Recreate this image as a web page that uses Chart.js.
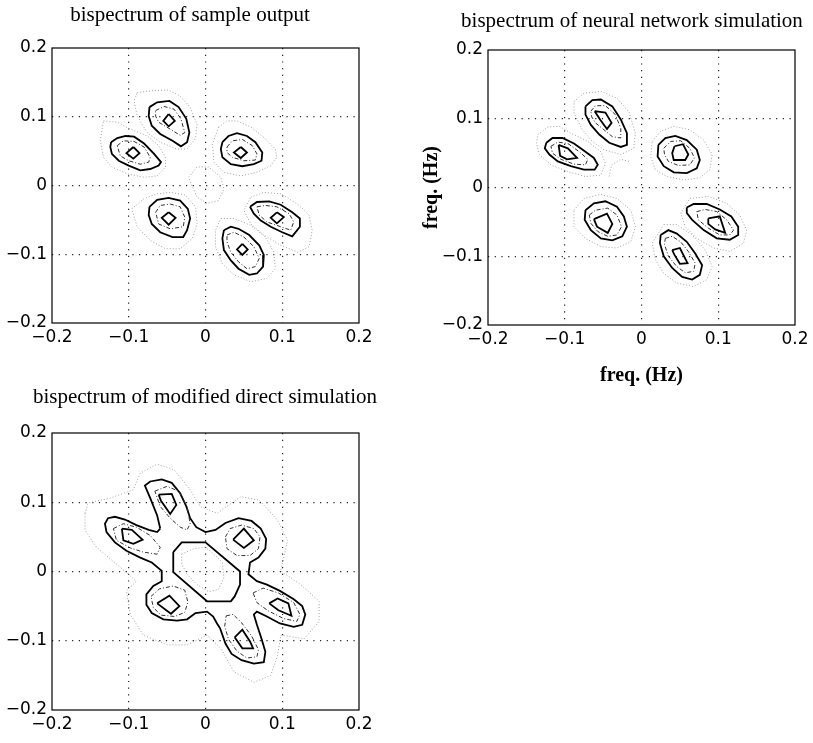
<!DOCTYPE html>
<html>
<head>
<meta charset="utf-8">
<title>bispectrum contours</title>
<script src="https://cdn.jsdelivr.net/npm/chart.js@4.4.0/dist/chart.umd.min.js"></script>
<style>
    html, body { margin: 0; padding: 0; background: #fff; }
    #fig { position: relative; width: 813px; height: 743px; overflow: hidden; }
    canvas { position: absolute; }
    .title {
        position: absolute;
        font: 21px "Liberation Serif", "Times New Roman", serif;
        line-height: 24px;
        color: #000;
        white-space: nowrap;
        transform: translateX(-50%);
    }
</style>
</head>
<body>
<div id="fig">
    <canvas id="sampleChart" width="380" height="360" style="left:0;top:0"></canvas>
    <canvas id="networkChart" width="413" height="400" style="left:400px;top:0"></canvas>
    <canvas id="directChart" width="380" height="363" style="left:0;top:380px"></canvas>
    <div class="title" style="left:190px;top:2px">bispectrum of sample output</div>
    <div class="title" style="left:632px;top:8px">bispectrum of neural network simulation</div>
    <div class="title" style="left:205px;top:384px">bispectrum of modified direct simulation</div>
</div>
<script>
"use strict";

// Axis ticks (Hz)
const TICK_VALUES = [-0.2, -0.1, 0, 0.1, 0.2];
const TICK_LABELS = ["\u22120.2", "\u22120.1", "0", "0.1", "0.2"];

// Contour rings, [f1, f2] pairs. Lobes go: upper, left, right-upper, lower-left, right-lower, lower.

// sample output
const sampleFaint = [
    [[-0.089,0.135],[-0.070,0.138],[-0.048,0.139],[-0.033,0.130],[-0.020,0.114],[-0.011,0.089],[-0.013,0.068],[-0.024,0.053],[-0.037,0.053],[-0.059,0.063],[-0.076,0.077],[-0.089,0.101],[-0.093,0.123]],
    [[-0.133,0.094],[-0.115,0.092],[-0.098,0.082],[-0.076,0.072],[-0.061,0.058],[-0.052,0.041],[-0.052,0.027],[-0.063,0.014],[-0.080,0.012],[-0.102,0.017],[-0.122,0.027],[-0.133,0.041],[-0.137,0.065]],
    [[0.017,0.085],[0.028,0.094],[0.041,0.094],[0.059,0.085],[0.076,0.070],[0.091,0.053],[0.093,0.041],[0.085,0.029],[0.067,0.019],[0.046,0.014],[0.024,0.019],[0.011,0.034],[0.009,0.060]],
    [[-0.096,-0.034],[-0.080,-0.019],[-0.063,-0.012],[-0.046,-0.010],[-0.026,-0.014],[-0.013,-0.031],[-0.011,-0.056],[-0.017,-0.077],[-0.033,-0.092],[-0.052,-0.092],[-0.072,-0.080],[-0.089,-0.060]],
    [[0.059,-0.017],[0.076,-0.010],[0.098,-0.012],[0.120,-0.027],[0.135,-0.043],[0.139,-0.065],[0.135,-0.089],[0.120,-0.097],[0.098,-0.087],[0.076,-0.072],[0.059,-0.056],[0.050,-0.036]],
    [[0.020,-0.048],[0.037,-0.048],[0.059,-0.058],[0.078,-0.075],[0.089,-0.097],[0.091,-0.121],[0.080,-0.135],[0.059,-0.140],[0.037,-0.130],[0.022,-0.114],[0.013,-0.089],[0.013,-0.065]],
    [[-0.022,0.012],[-0.011,0.027],[0.004,0.027],[0.020,0.012],[0.024,-0.005],[0.017,-0.022],[0.002,-0.026],[-0.011,-0.017],[-0.017,-0.002]]
];
const sampleDash = [
    [[-0.065,0.109],[-0.054,0.115],[-0.041,0.111],[-0.032,0.097],[-0.027,0.077],[-0.033,0.073],[-0.046,0.082],[-0.061,0.092],[-0.065,0.101]],
    [[-0.115,0.058],[-0.107,0.065],[-0.093,0.064],[-0.080,0.056],[-0.072,0.041],[-0.074,0.034],[-0.085,0.031],[-0.100,0.036],[-0.111,0.043]],
    [[0.028,0.056],[0.035,0.065],[0.048,0.067],[0.061,0.058],[0.067,0.046],[0.065,0.037],[0.050,0.036],[0.035,0.041],[0.028,0.048]],
    [[-0.065,-0.039],[-0.059,-0.029],[-0.046,-0.027],[-0.033,-0.031],[-0.027,-0.046],[-0.029,-0.060],[-0.046,-0.063],[-0.061,-0.056]],
    [[0.067,-0.031],[0.078,-0.029],[0.093,-0.031],[0.109,-0.041],[0.115,-0.053],[0.111,-0.065],[0.098,-0.060],[0.080,-0.053],[0.070,-0.043]],
    [[0.028,-0.072],[0.037,-0.068],[0.050,-0.075],[0.063,-0.089],[0.070,-0.106],[0.065,-0.118],[0.054,-0.121],[0.043,-0.111],[0.033,-0.097],[0.028,-0.082]]
];
const sampleSolid = [
    [[-0.073,0.114],[-0.063,0.121],[-0.047,0.123],[-0.035,0.114],[-0.025,0.097],[-0.021,0.077],[-0.024,0.063],[-0.032,0.057],[-0.043,0.065],[-0.059,0.075],[-0.070,0.087],[-0.074,0.101]],
    [[-0.123,0.063],[-0.115,0.069],[-0.104,0.072],[-0.093,0.071],[-0.080,0.061],[-0.067,0.046],[-0.058,0.034],[-0.061,0.029],[-0.072,0.024],[-0.085,0.022],[-0.100,0.029],[-0.113,0.036],[-0.122,0.046],[-0.124,0.056]],
    [[0.022,0.063],[0.030,0.072],[0.041,0.076],[0.054,0.072],[0.065,0.063],[0.074,0.048],[0.073,0.036],[0.063,0.031],[0.048,0.028],[0.033,0.031],[0.022,0.041],[0.020,0.053]],
    [[-0.073,-0.031],[-0.063,-0.021],[-0.048,-0.018],[-0.033,-0.022],[-0.023,-0.034],[-0.020,-0.048],[-0.024,-0.065],[-0.029,-0.075],[-0.043,-0.075],[-0.059,-0.068],[-0.070,-0.056],[-0.074,-0.043]],
    [[0.058,-0.031],[0.067,-0.024],[0.083,-0.023],[0.098,-0.028],[0.113,-0.039],[0.123,-0.048],[0.123,-0.060],[0.113,-0.074],[0.100,-0.068],[0.085,-0.060],[0.072,-0.051],[0.063,-0.041]],
    [[0.024,-0.065],[0.033,-0.060],[0.043,-0.063],[0.057,-0.072],[0.070,-0.087],[0.076,-0.101],[0.075,-0.118],[0.067,-0.128],[0.057,-0.130],[0.043,-0.121],[0.033,-0.109],[0.024,-0.094],[0.022,-0.077]]
];
const sampleCore = [
    [[-0.048,0.104],[-0.040,0.094],[-0.048,0.086],[-0.055,0.094]],
    [[-0.094,0.056],[-0.086,0.047],[-0.094,0.039],[-0.103,0.047]],
    [[0.046,0.056],[0.054,0.048],[0.046,0.040],[0.037,0.048]],
    [[-0.048,-0.039],[-0.039,-0.047],[-0.048,-0.057],[-0.057,-0.047]],
    [[0.093,-0.039],[0.102,-0.046],[0.093,-0.055],[0.085,-0.047]],
    [[0.048,-0.085],[0.055,-0.093],[0.048,-0.101],[0.041,-0.093]]
];

// neural network simulation
const networkFaint = [
    [[-0.088,0.125],[-0.075,0.137],[-0.053,0.140],[-0.032,0.130],[-0.016,0.109],[-0.008,0.079],[-0.010,0.057],[-0.027,0.048],[-0.049,0.055],[-0.064,0.067],[-0.077,0.084],[-0.088,0.108]],
    [[-0.135,0.077],[-0.122,0.088],[-0.107,0.089],[-0.092,0.079],[-0.070,0.067],[-0.053,0.052],[-0.047,0.035],[-0.053,0.018],[-0.073,0.016],[-0.096,0.023],[-0.118,0.033],[-0.133,0.048],[-0.137,0.065]],
    [[0.014,0.067],[0.025,0.082],[0.042,0.089],[0.063,0.084],[0.081,0.069],[0.092,0.048],[0.089,0.026],[0.076,0.014],[0.055,0.011],[0.033,0.016],[0.018,0.026],[0.012,0.045]],
    [[-0.088,-0.033],[-0.075,-0.016],[-0.053,-0.010],[-0.032,-0.016],[-0.014,-0.033],[-0.008,-0.057],[-0.014,-0.079],[-0.032,-0.088],[-0.053,-0.086],[-0.073,-0.074],[-0.088,-0.057]],
    [[0.063,-0.016],[0.087,-0.013],[0.111,-0.023],[0.128,-0.040],[0.137,-0.062],[0.133,-0.081],[0.115,-0.093],[0.094,-0.088],[0.072,-0.074],[0.057,-0.057],[0.051,-0.037]],
    [[0.029,-0.054],[0.046,-0.054],[0.066,-0.069],[0.083,-0.091],[0.092,-0.115],[0.085,-0.134],[0.068,-0.144],[0.046,-0.139],[0.029,-0.125],[0.018,-0.105],[0.014,-0.081]]
];
const networkArcs = [
    [[-0.042,0.016],[-0.039,0.033],[-0.027,0.041],[-0.016,0.038]]
];
const networkDash = [
    [[-0.066,0.111],[-0.060,0.119],[-0.047,0.119],[-0.034,0.106],[-0.027,0.086],[-0.027,0.072],[-0.038,0.074],[-0.049,0.084],[-0.060,0.094],[-0.065,0.103]],
    [[-0.118,0.060],[-0.109,0.066],[-0.096,0.064],[-0.081,0.052],[-0.070,0.041],[-0.073,0.033],[-0.088,0.034],[-0.105,0.041],[-0.116,0.050]],
    [[0.029,0.057],[0.038,0.067],[0.051,0.068],[0.063,0.057],[0.069,0.043],[0.063,0.033],[0.048,0.032],[0.035,0.038],[0.030,0.048]],
    [[-0.068,-0.040],[-0.060,-0.033],[-0.044,-0.030],[-0.032,-0.040],[-0.026,-0.057],[-0.032,-0.069],[-0.044,-0.071],[-0.057,-0.064],[-0.066,-0.052]],
    [[0.072,-0.035],[0.083,-0.032],[0.098,-0.035],[0.111,-0.047],[0.120,-0.062],[0.115,-0.069],[0.102,-0.069],[0.087,-0.059],[0.074,-0.047]],
    [[0.031,-0.074],[0.040,-0.071],[0.051,-0.079],[0.061,-0.093],[0.070,-0.110],[0.068,-0.122],[0.057,-0.124],[0.046,-0.115],[0.035,-0.100],[0.030,-0.083]]
];
const networkSolid = [
    [[-0.073,0.118],[-0.064,0.127],[-0.053,0.128],[-0.038,0.118],[-0.027,0.099],[-0.019,0.079],[-0.019,0.062],[-0.027,0.059],[-0.042,0.065],[-0.055,0.077],[-0.066,0.091],[-0.073,0.106]],
    [[-0.124,0.065],[-0.116,0.072],[-0.103,0.072],[-0.088,0.064],[-0.073,0.052],[-0.062,0.043],[-0.057,0.033],[-0.061,0.026],[-0.075,0.026],[-0.092,0.031],[-0.109,0.038],[-0.120,0.048],[-0.126,0.057]],
    [[0.022,0.062],[0.031,0.072],[0.044,0.075],[0.059,0.069],[0.072,0.055],[0.076,0.040],[0.072,0.028],[0.059,0.021],[0.042,0.022],[0.029,0.031],[0.021,0.045]],
    [[-0.073,-0.033],[-0.062,-0.023],[-0.047,-0.020],[-0.032,-0.028],[-0.023,-0.042],[-0.019,-0.057],[-0.025,-0.071],[-0.038,-0.077],[-0.053,-0.074],[-0.066,-0.062],[-0.074,-0.047]],
    [[0.059,-0.029],[0.068,-0.024],[0.085,-0.024],[0.102,-0.032],[0.117,-0.042],[0.126,-0.057],[0.126,-0.069],[0.115,-0.076],[0.098,-0.074],[0.081,-0.062],[0.066,-0.047],[0.059,-0.037]],
    [[0.025,-0.069],[0.035,-0.062],[0.046,-0.067],[0.059,-0.079],[0.070,-0.096],[0.079,-0.113],[0.076,-0.127],[0.066,-0.134],[0.053,-0.130],[0.040,-0.117],[0.029,-0.100],[0.024,-0.081]]
];
const networkCore = [
    [[-0.061,0.111],[-0.047,0.109],[-0.039,0.094],[-0.045,0.085],[-0.054,0.099]],
    [[-0.108,0.062],[-0.096,0.057],[-0.084,0.043],[-0.097,0.041],[-0.106,0.046]],
    [[0.043,0.060],[0.054,0.063],[0.061,0.048],[0.057,0.040],[0.042,0.040],[0.040,0.050]],
    [[-0.062,-0.046],[-0.045,-0.038],[-0.038,-0.053],[-0.044,-0.066],[-0.058,-0.057]],
    [[0.087,-0.045],[0.102,-0.042],[0.109,-0.066],[0.096,-0.061],[0.087,-0.053]],
    [[0.040,-0.091],[0.050,-0.088],[0.060,-0.110],[0.050,-0.111],[0.043,-0.098]]
];

// modified direct simulation
const directFaint = [
    [[-0.157,0.084],[-0.153,0.099],[-0.124,0.106],[-0.094,0.118],[-0.085,0.142],[-0.063,0.155],[-0.041,0.147],[-0.020,0.118],[-0.007,0.094],[0.015,0.084],[0.046,0.108],[0.070,0.103],[0.094,0.074],[0.107,0.045],[0.098,0.001],[0.124,-0.019],[0.148,-0.043],[0.148,-0.072],[0.129,-0.097],[0.098,-0.092],[0.094,-0.121],[0.085,-0.150],[0.063,-0.160],[0.037,-0.145],[0.020,-0.111],[0.002,-0.092],[-0.024,-0.106],[-0.050,-0.106],[-0.081,-0.092],[-0.098,-0.062],[-0.103,-0.028],[-0.090,-0.014],[-0.111,0.006],[-0.142,0.035],[-0.157,0.060]],
    [[-0.031,0.025],[-0.015,0.033],[0.000,0.035],[0.011,0.025],[0.022,0.013],[0.024,-0.009],[0.017,-0.026],[0.004,-0.029],[-0.011,-0.019],[-0.024,-0.004],[-0.031,0.011]]
];
const directDash = [
    [[-0.066,0.116],[-0.050,0.123],[-0.035,0.116],[-0.024,0.094],[-0.020,0.069],[-0.024,0.060],[-0.033,0.064],[-0.046,0.077],[-0.059,0.094]],
    [[-0.120,0.062],[-0.107,0.069],[-0.090,0.064],[-0.072,0.052],[-0.059,0.035],[-0.063,0.025],[-0.081,0.028],[-0.098,0.034],[-0.116,0.045]],
    [[0.026,0.050],[0.032,0.062],[0.047,0.067],[0.063,0.062],[0.071,0.050],[0.069,0.033],[0.058,0.023],[0.041,0.023],[0.028,0.033]],
    [[-0.071,-0.036],[-0.060,-0.025],[-0.042,-0.021],[-0.027,-0.027],[-0.023,-0.044],[-0.027,-0.059],[-0.040,-0.065],[-0.058,-0.063],[-0.068,-0.052]],
    [[0.062,-0.031],[0.075,-0.024],[0.095,-0.031],[0.115,-0.045],[0.123,-0.062],[0.119,-0.072],[0.102,-0.068],[0.082,-0.057],[0.067,-0.045]],
    [[0.027,-0.064],[0.036,-0.062],[0.047,-0.074],[0.060,-0.093],[0.069,-0.113],[0.067,-0.123],[0.054,-0.125],[0.041,-0.115],[0.030,-0.098],[0.025,-0.079]]
];
const directSolid = [
    [[-0.059,0.062],[-0.063,0.081],[-0.072,0.106],[-0.079,0.124],[-0.072,0.130],[-0.057,0.133],[-0.044,0.128],[-0.033,0.113],[-0.025,0.094],[-0.020,0.077],[-0.012,0.064],[0.000,0.057],
     [0.013,0.060],[0.026,0.070],[0.043,0.077],[0.060,0.073],[0.072,0.062],[0.079,0.047],[0.078,0.033],[0.069,0.020],[0.058,0.013],[0.056,-0.004],
     [0.067,-0.014],[0.080,-0.019],[0.097,-0.028],[0.115,-0.040],[0.126,-0.050],[0.130,-0.062],[0.126,-0.077],[0.115,-0.080],[0.097,-0.075],[0.080,-0.065],[0.067,-0.058],
     [0.063,-0.062],[0.067,-0.077],[0.073,-0.097],[0.078,-0.116],[0.076,-0.131],[0.063,-0.133],[0.047,-0.128],[0.034,-0.119],[0.026,-0.104],[0.019,-0.082],[0.015,-0.075],[0.010,-0.065],
     [0.002,-0.058],[-0.013,-0.060],[-0.024,-0.069],[-0.037,-0.071],[-0.055,-0.069],[-0.070,-0.060],[-0.077,-0.048],[-0.077,-0.033],[-0.068,-0.021],[-0.057,-0.014],[-0.057,0.001],
     [-0.070,0.013],[-0.085,0.020],[-0.103,0.030],[-0.118,0.042],[-0.129,0.057],[-0.131,0.069],[-0.127,0.077],[-0.118,0.079],[-0.105,0.075],[-0.090,0.067],[-0.074,0.060],[-0.063,0.057]],
    [[-0.042,0.028],[-0.031,0.042],[0.000,0.042],[0.045,0.000],[0.045,-0.019],[0.038,-0.036],[0.033,-0.043],[0.002,-0.043],[-0.042,-0.001]]
];
const directCore = [
    [[-0.061,0.111],[-0.044,0.112],[-0.038,0.096],[-0.046,0.083],[-0.058,0.102]],
    [[-0.109,0.062],[-0.096,0.060],[-0.082,0.046],[-0.094,0.040],[-0.107,0.045]],
    [[0.036,0.046],[0.050,0.062],[0.063,0.045],[0.050,0.034]],
    [[-0.063,-0.046],[-0.047,-0.035],[-0.034,-0.050],[-0.045,-0.061]],
    [[0.083,-0.046],[0.094,-0.039],[0.108,-0.046],[0.112,-0.064],[0.095,-0.056]],
    [[0.038,-0.095],[0.048,-0.084],[0.058,-0.101],[0.062,-0.111],[0.048,-0.111]]
];


// Line styles for each contour level

const LEVEL_STYLES = {
    faint: { borderColor: "#a0a0a0", borderWidth: 1, borderDash: [1, 2] },
    dash:  { borderColor: "#333", borderWidth: 1, borderDash: [4, 2, 1, 2] },
    solid: { borderColor: "#000", borderWidth: 1.8, borderDash: [] }
};

function toPoints(pts, closed) {
    let list = closed ? pts.concat([pts[0]]) : pts;
    return list.map(p => ({ x: p[0], y: p[1] }));
}

function contourSets(rings, level, closed = true) {
    return rings.map(r => Object.assign({
        data: toPoints(r, closed),
        showLine: true,
        pointRadius: 0,
        pointHoverRadius: 0,
        fill: false,
        tension: 0
    }, LEVEL_STYLES[level]));
}


// Frame round the plot area

const boxFrame = {
    id: "boxFrame",
    afterDatasetsDraw(chart) {
        const { ctx, chartArea: a } = chart;
        ctx.save();
        ctx.strokeStyle = "#000";
        ctx.lineWidth = 1.2;
        ctx.strokeRect(a.left, a.top, a.right - a.left, a.bottom - a.top);
        ctx.restore();
    }
};

const TICK_FONT = { family: "'DejaVu Sans', sans-serif", size: 17 };
const LABEL_FONT = { family: "'Liberation Serif', serif", size: 20, weight: "bold" };

function axisOptions(size, isX, title) {
    let axis = {
        type: "linear",
        min: -0.2,
        max: 0.2,
        afterBuildTicks: (scale) => { scale.ticks = TICK_VALUES.map(v => ({ value: v })); },
        afterFit: (scale) => {
            if (isX) { scale.height = size; } else { scale.width = size; }
        },
        grid: {
            drawTicks: false,
            lineWidth: 1.2,
            color: (c) => (c.index === 0 || c.index === TICK_VALUES.length - 1) ? "rgba(0,0,0,0)" : "#222"
        },
        border: { display: false, dash: [1.2, 5.5] },
        ticks: {
            color: "#000",
            font: TICK_FONT,
            padding: isX ? 4 : 5,
            autoSkip: false,
            maxRotation: 0,
            minRotation: 0,
            callback: (value, index) => TICK_LABELS[index]
        }
    };
    if (title) {
        axis.title = {
            display: true,
            text: "freq. (Hz)",
            color: "#000",
            font: LABEL_FONT,
            padding: isX ? { top: 0, bottom: 12 } : { top: 20, bottom: 0 }
        };
    }
    return axis;
}

function drawBispectrum(canvasId, levels, layout) {
    let datasets = []
        .concat(contourSets(levels.faint, "faint"))
        .concat(contourSets(levels.arcs || [], "faint", false))
        .concat(contourSets(levels.dash, "dash"))
        .concat(contourSets(levels.solid, "solid"))
        .concat(contourSets(levels.core, "solid"));

    return new Chart(document.getElementById(canvasId), {
        type: "scatter",
        data: { datasets: datasets },
        options: {
            responsive: false,
            animation: false,
            devicePixelRatio: 1,
            layout: { padding: layout.padding },
            plugins: {
                legend: { display: false },
                tooltip: { enabled: false },
                title: { display: false }
            },
            scales: {
                x: axisOptions(layout.xHeight, true, layout.labels),
                y: axisOptions(layout.yWidth, false, layout.labels)
            }
        },
        plugins: [boxFrame]
    });
}

drawBispectrum("sampleChart",
    { faint: sampleFaint, dash: sampleDash, solid: sampleSolid, core: sampleCore },
    { padding: { top: 48, left: 0, right: 21, bottom: 0 }, yWidth: 52, xHeight: 37, labels: false });

drawBispectrum("networkChart",
    { faint: networkFaint, arcs: networkArcs, dash: networkDash, solid: networkSolid, core: networkCore },
    { padding: { top: 50, left: 0, right: 18, bottom: 0 }, yWidth: 88, xHeight: 75, labels: true });

drawBispectrum("directChart",
    { faint: directFaint, dash: directDash, solid: directSolid, core: directCore },
    { padding: { top: 53, left: 0, right: 21, bottom: 0 }, yWidth: 52, xHeight: 33, labels: false });
</script>
</body>
</html>
